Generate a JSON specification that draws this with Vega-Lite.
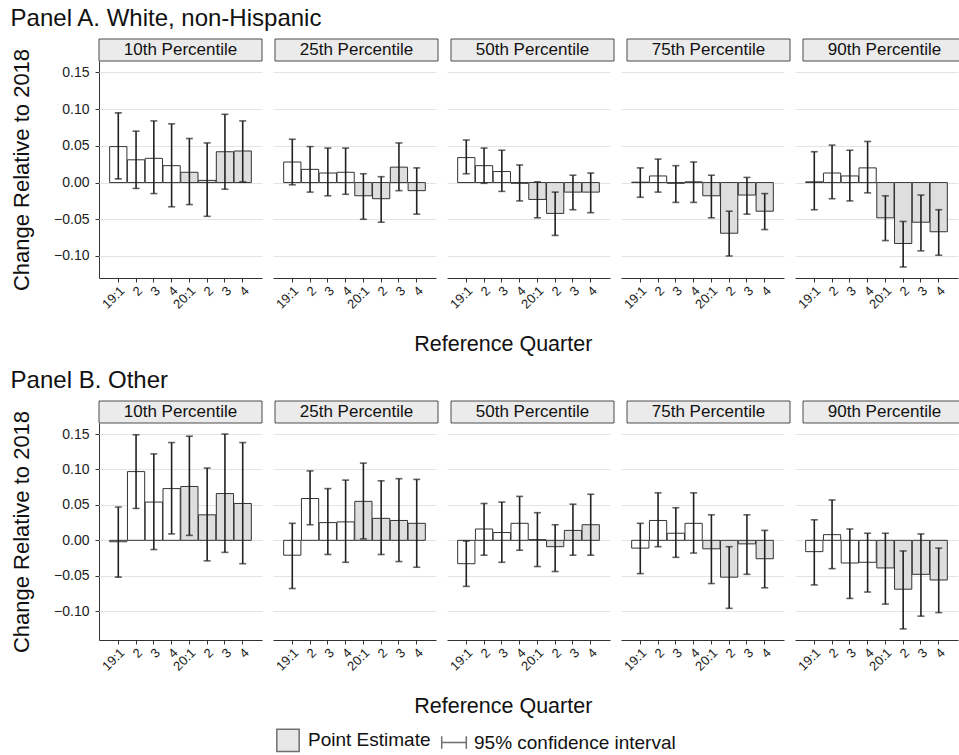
{
  "$schema": "https://vega.github.io/schema/vega-lite/v6.json",
  "background": "white",
  "padding": {"left": 10, "top": 6, "right": 0, "bottom": 0},
  "config": {
    "font": "Liberation Sans",
    "view": {"stroke": null},
    "title": {"fontSize": 24, "fontWeight": "normal", "anchor": "start", "color": "#111", "offset": 8},
    "axis": {
      "labelFontSize": 14, "labelColor": "#222", "domainColor": "#333", "tickColor": "#333",
      "tickSize": 4, "titleFontSize": 22, "titleFontWeight": "normal", "titleColor": "#111",
      "gridColor": "#e4e4e4", "gridWidth": 1
    },
    "legend": {"labelFontSize": 19, "labelColor": "#111", "labelLimit": 400}
  },
  "datasets": {
    "strips": [
      {"pct": "10th Percentile"}, {"pct": "25th Percentile"}, {"pct": "50th Percentile"},
      {"pct": "75th Percentile"}, {"pct": "90th Percentile"}
    ],
    "est": [
      {"panel": "A", "pct": "10th Percentile", "q": "19:1", "est": 0.049, "lo": 0.005, "hi": 0.095},
      {"panel": "A", "pct": "10th Percentile", "q": "19:2", "est": 0.031, "lo": -0.008, "hi": 0.070},
      {"panel": "A", "pct": "10th Percentile", "q": "19:3", "est": 0.033, "lo": -0.015, "hi": 0.084},
      {"panel": "A", "pct": "10th Percentile", "q": "19:4", "est": 0.023, "lo": -0.033, "hi": 0.080},
      {"panel": "A", "pct": "10th Percentile", "q": "20:1", "est": 0.014, "lo": -0.030, "hi": 0.060},
      {"panel": "A", "pct": "10th Percentile", "q": "20:2", "est": 0.003, "lo": -0.046, "hi": 0.054},
      {"panel": "A", "pct": "10th Percentile", "q": "20:3", "est": 0.042, "lo": -0.009, "hi": 0.093},
      {"panel": "A", "pct": "10th Percentile", "q": "20:4", "est": 0.043, "lo": 0.001, "hi": 0.084},

      {"panel": "A", "pct": "25th Percentile", "q": "19:1", "est": 0.028, "lo": -0.003, "hi": 0.059},
      {"panel": "A", "pct": "25th Percentile", "q": "19:2", "est": 0.018, "lo": -0.013, "hi": 0.049},
      {"panel": "A", "pct": "25th Percentile", "q": "19:3", "est": 0.013, "lo": -0.018, "hi": 0.047},
      {"panel": "A", "pct": "25th Percentile", "q": "19:4", "est": 0.014, "lo": -0.016, "hi": 0.047},
      {"panel": "A", "pct": "25th Percentile", "q": "20:1", "est": -0.018, "lo": -0.050, "hi": 0.012},
      {"panel": "A", "pct": "25th Percentile", "q": "20:2", "est": -0.022, "lo": -0.054, "hi": 0.008},
      {"panel": "A", "pct": "25th Percentile", "q": "20:3", "est": 0.021, "lo": -0.011, "hi": 0.054},
      {"panel": "A", "pct": "25th Percentile", "q": "20:4", "est": -0.011, "lo": -0.043, "hi": 0.020},

      {"panel": "A", "pct": "50th Percentile", "q": "19:1", "est": 0.034, "lo": 0.012, "hi": 0.058},
      {"panel": "A", "pct": "50th Percentile", "q": "19:2", "est": 0.023, "lo": -0.001, "hi": 0.047},
      {"panel": "A", "pct": "50th Percentile", "q": "19:3", "est": 0.015, "lo": -0.012, "hi": 0.044},
      {"panel": "A", "pct": "50th Percentile", "q": "19:4", "est": -0.001, "lo": -0.025, "hi": 0.024},
      {"panel": "A", "pct": "50th Percentile", "q": "20:1", "est": -0.023, "lo": -0.048, "hi": 0.001},
      {"panel": "A", "pct": "50th Percentile", "q": "20:2", "est": -0.042, "lo": -0.072, "hi": -0.013},
      {"panel": "A", "pct": "50th Percentile", "q": "20:3", "est": -0.013, "lo": -0.037, "hi": 0.010},
      {"panel": "A", "pct": "50th Percentile", "q": "20:4", "est": -0.013, "lo": -0.041, "hi": 0.013},

      {"panel": "A", "pct": "75th Percentile", "q": "19:1", "est": 0.0005, "lo": -0.020, "hi": 0.020},
      {"panel": "A", "pct": "75th Percentile", "q": "19:2", "est": 0.009, "lo": -0.013, "hi": 0.032},
      {"panel": "A", "pct": "75th Percentile", "q": "19:3", "est": -0.001, "lo": -0.027, "hi": 0.023},
      {"panel": "A", "pct": "75th Percentile", "q": "19:4", "est": 0.001, "lo": -0.027, "hi": 0.028},
      {"panel": "A", "pct": "75th Percentile", "q": "20:1", "est": -0.018, "lo": -0.048, "hi": 0.010},
      {"panel": "A", "pct": "75th Percentile", "q": "20:2", "est": -0.069, "lo": -0.100, "hi": -0.039},
      {"panel": "A", "pct": "75th Percentile", "q": "20:3", "est": -0.017, "lo": -0.043, "hi": 0.007},
      {"panel": "A", "pct": "75th Percentile", "q": "20:4", "est": -0.039, "lo": -0.064, "hi": -0.015},

      {"panel": "A", "pct": "90th Percentile", "q": "19:1", "est": 0.001, "lo": -0.037, "hi": 0.042},
      {"panel": "A", "pct": "90th Percentile", "q": "19:2", "est": 0.013, "lo": -0.022, "hi": 0.051},
      {"panel": "A", "pct": "90th Percentile", "q": "19:3", "est": 0.009, "lo": -0.025, "hi": 0.044},
      {"panel": "A", "pct": "90th Percentile", "q": "19:4", "est": 0.020, "lo": -0.014, "hi": 0.056},
      {"panel": "A", "pct": "90th Percentile", "q": "20:1", "est": -0.048, "lo": -0.079, "hi": -0.018},
      {"panel": "A", "pct": "90th Percentile", "q": "20:2", "est": -0.083, "lo": -0.115, "hi": -0.053},
      {"panel": "A", "pct": "90th Percentile", "q": "20:3", "est": -0.054, "lo": -0.093, "hi": -0.017},
      {"panel": "A", "pct": "90th Percentile", "q": "20:4", "est": -0.067, "lo": -0.099, "hi": -0.037},

      {"panel": "B", "pct": "10th Percentile", "q": "19:1", "est": -0.002, "lo": -0.052, "hi": 0.047},
      {"panel": "B", "pct": "10th Percentile", "q": "19:2", "est": 0.097, "lo": 0.045, "hi": 0.149},
      {"panel": "B", "pct": "10th Percentile", "q": "19:3", "est": 0.054, "lo": -0.013, "hi": 0.122},
      {"panel": "B", "pct": "10th Percentile", "q": "19:4", "est": 0.073, "lo": 0.009, "hi": 0.138},
      {"panel": "B", "pct": "10th Percentile", "q": "20:1", "est": 0.076, "lo": 0.007, "hi": 0.147},
      {"panel": "B", "pct": "10th Percentile", "q": "20:2", "est": 0.036, "lo": -0.029, "hi": 0.102},
      {"panel": "B", "pct": "10th Percentile", "q": "20:3", "est": 0.066, "lo": -0.017, "hi": 0.150},
      {"panel": "B", "pct": "10th Percentile", "q": "20:4", "est": 0.052, "lo": -0.033, "hi": 0.138},

      {"panel": "B", "pct": "25th Percentile", "q": "19:1", "est": -0.021, "lo": -0.068, "hi": 0.024},
      {"panel": "B", "pct": "25th Percentile", "q": "19:2", "est": 0.059, "lo": 0.022, "hi": 0.098},
      {"panel": "B", "pct": "25th Percentile", "q": "19:3", "est": 0.025, "lo": -0.020, "hi": 0.073},
      {"panel": "B", "pct": "25th Percentile", "q": "19:4", "est": 0.026, "lo": -0.031, "hi": 0.085},
      {"panel": "B", "pct": "25th Percentile", "q": "20:1", "est": 0.055, "lo": 0.002, "hi": 0.109},
      {"panel": "B", "pct": "25th Percentile", "q": "20:2", "est": 0.031, "lo": -0.020, "hi": 0.084},
      {"panel": "B", "pct": "25th Percentile", "q": "20:3", "est": 0.028, "lo": -0.030, "hi": 0.087},
      {"panel": "B", "pct": "25th Percentile", "q": "20:4", "est": 0.024, "lo": -0.038, "hi": 0.086},

      {"panel": "B", "pct": "50th Percentile", "q": "19:1", "est": -0.033, "lo": -0.065, "hi": -0.001},
      {"panel": "B", "pct": "50th Percentile", "q": "19:2", "est": 0.016, "lo": -0.021, "hi": 0.052},
      {"panel": "B", "pct": "50th Percentile", "q": "19:3", "est": 0.011, "lo": -0.031, "hi": 0.054},
      {"panel": "B", "pct": "50th Percentile", "q": "19:4", "est": 0.024, "lo": -0.014, "hi": 0.062},
      {"panel": "B", "pct": "50th Percentile", "q": "20:1", "est": 0.001, "lo": -0.037, "hi": 0.039},
      {"panel": "B", "pct": "50th Percentile", "q": "20:2", "est": -0.009, "lo": -0.044, "hi": 0.022},
      {"panel": "B", "pct": "50th Percentile", "q": "20:3", "est": 0.014, "lo": -0.021, "hi": 0.051},
      {"panel": "B", "pct": "50th Percentile", "q": "20:4", "est": 0.022, "lo": -0.021, "hi": 0.065},

      {"panel": "B", "pct": "75th Percentile", "q": "19:1", "est": -0.011, "lo": -0.047, "hi": 0.024},
      {"panel": "B", "pct": "75th Percentile", "q": "19:2", "est": 0.028, "lo": -0.009, "hi": 0.067},
      {"panel": "B", "pct": "75th Percentile", "q": "19:3", "est": 0.010, "lo": -0.024, "hi": 0.046},
      {"panel": "B", "pct": "75th Percentile", "q": "19:4", "est": 0.024, "lo": -0.018, "hi": 0.067},
      {"panel": "B", "pct": "75th Percentile", "q": "20:1", "est": -0.012, "lo": -0.061, "hi": 0.036},
      {"panel": "B", "pct": "75th Percentile", "q": "20:2", "est": -0.052, "lo": -0.096, "hi": -0.009},
      {"panel": "B", "pct": "75th Percentile", "q": "20:3", "est": -0.005, "lo": -0.048, "hi": 0.036},
      {"panel": "B", "pct": "75th Percentile", "q": "20:4", "est": -0.026, "lo": -0.067, "hi": 0.014},

      {"panel": "B", "pct": "90th Percentile", "q": "19:1", "est": -0.016, "lo": -0.063, "hi": 0.029},
      {"panel": "B", "pct": "90th Percentile", "q": "19:2", "est": 0.008, "lo": -0.040, "hi": 0.057},
      {"panel": "B", "pct": "90th Percentile", "q": "19:3", "est": -0.032, "lo": -0.082, "hi": 0.016},
      {"panel": "B", "pct": "90th Percentile", "q": "19:4", "est": -0.031, "lo": -0.073, "hi": 0.010},
      {"panel": "B", "pct": "90th Percentile", "q": "20:1", "est": -0.039, "lo": -0.090, "hi": 0.010},
      {"panel": "B", "pct": "90th Percentile", "q": "20:2", "est": -0.069, "lo": -0.125, "hi": -0.015},
      {"panel": "B", "pct": "90th Percentile", "q": "20:3", "est": -0.048, "lo": -0.107, "hi": 0.009},
      {"panel": "B", "pct": "90th Percentile", "q": "20:4", "est": -0.056, "lo": -0.102, "hi": -0.011}
    ]
  },
  "spacing": 12,
  "vconcat": [
    {
      "title": {"text": "Panel A. White, non-Hispanic"},
      "bounds": "flush",
      "spacing": 22,
      "vconcat": [
        {
          "data": {"name": "strips"},
          "facet": {"column": {"field": "pct", "type": "nominal", "header": null}},
          "spacing": 11,
          "spec": {
            "width": 163,
            "height": 22,
            "layer": [
              {"mark": {"type": "rect", "fill": "#ebebeb", "stroke": "#4d4d4d", "strokeWidth": 1}, "encoding": {}},
              {"mark": {"type": "text", "fontSize": 17, "color": "#111"}, "encoding": {"text": {"field": "pct"}}}
            ]
          }
        },
        {
          "data": {"name": "est"},
          "transform": [{"filter": "datum.panel == 'A'"}],
          "title": {"text": "Reference Quarter", "orient": "bottom", "anchor": "middle", "frame": "bounds", "dx": 19, "fontSize": 21.5, "offset": 23},
          "facet": {"column": {"field": "pct", "type": "nominal", "header": null}},
          "spacing": 11,
          "spec": {
            "width": 163,
            "height": 217,
            "encoding": {
              "x": {
                "field": "q", "type": "nominal",
                "scale": {"paddingInner": 0.03, "paddingOuter": 0.6},
                "axis": {
                  "title": null, "labelAngle": -45, "labelFontSize": 13, "grid": false,
                  "labelExpr": "slice(datum.value, 3) == '1' ? datum.value : slice(datum.value, 3)"
                }
              }
            },
            "layer": [
              {
                "mark": {"type": "bar", "stroke": "#333", "strokeWidth": 1},
                "encoding": {
                  "y": {
                    "field": "est", "type": "quantitative", "title": "Change Relative to 2018",
                    "scale": {"domain": [-0.13, 0.1656], "nice": false},
                    "axis": {"values": [-0.1, -0.05, 0, 0.05, 0.1, 0.15], "format": ".2f", "labelPadding": 6, "titlePadding": 20}
                  },
                  "fill": {"condition": {"test": "slice(datum.q, 0, 2) == '19'", "value": "white"}, "value": "#dedede"}
                }
              },
              {
                "mark": {"type": "rule", "color": "#222", "strokeWidth": 1.6},
                "encoding": {
                  "y": {"field": "lo", "type": "quantitative", "title": "Change Relative to 2018"},
                  "y2": {"field": "hi"}
                }
              },
              {
                "mark": {"type": "tick", "color": "#222", "size": 7, "thickness": 1.6},
                "encoding": {"y": {"field": "lo", "type": "quantitative", "title": "Change Relative to 2018"}}
              },
              {
                "mark": {"type": "tick", "color": "#222", "size": 7, "thickness": 1.6},
                "encoding": {"y": {"field": "hi", "type": "quantitative", "title": "Change Relative to 2018"}}
              }
            ]
          }
        }
      ]
    },
    {
      "title": {"text": "Panel B. Other"},
      "bounds": "flush",
      "spacing": 22,
      "vconcat": [
        {
          "data": {"name": "strips"},
          "facet": {"column": {"field": "pct", "type": "nominal", "header": null}},
          "spacing": 11,
          "spec": {
            "width": 163,
            "height": 22,
            "layer": [
              {"mark": {"type": "rect", "fill": "#ebebeb", "stroke": "#4d4d4d", "strokeWidth": 1}, "encoding": {}},
              {"mark": {"type": "text", "fontSize": 17, "color": "#111"}, "encoding": {"text": {"field": "pct"}}}
            ]
          }
        },
        {
          "data": {"name": "est"},
          "transform": [{"filter": "datum.panel == 'B'"}],
          "title": {"text": "Reference Quarter", "orient": "bottom", "anchor": "middle", "frame": "bounds", "dx": 19, "fontSize": 21.5, "offset": 23},
          "facet": {"column": {"field": "pct", "type": "nominal", "header": null}},
          "spacing": 11,
          "spec": {
            "width": 163,
            "height": 217,
            "encoding": {
              "x": {
                "field": "q", "type": "nominal",
                "scale": {"paddingInner": 0.03, "paddingOuter": 0.6},
                "axis": {
                  "title": null, "labelAngle": -45, "labelFontSize": 13, "grid": false,
                  "labelExpr": "slice(datum.value, 3) == '1' ? datum.value : slice(datum.value, 3)"
                }
              }
            },
            "layer": [
              {
                "mark": {"type": "bar", "stroke": "#333", "strokeWidth": 1},
                "encoding": {
                  "y": {
                    "field": "est", "type": "quantitative", "title": "Change Relative to 2018",
                    "scale": {"domain": [-0.1407, 0.1656], "nice": false},
                    "axis": {"values": [-0.1, -0.05, 0, 0.05, 0.1, 0.15], "format": ".2f", "labelPadding": 6, "titlePadding": 20}
                  },
                  "fill": {"condition": {"test": "slice(datum.q, 0, 2) == '19'", "value": "white"}, "value": "#dedede"}
                }
              },
              {
                "mark": {"type": "rule", "color": "#222", "strokeWidth": 1.6},
                "encoding": {
                  "y": {"field": "lo", "type": "quantitative", "title": "Change Relative to 2018"},
                  "y2": {"field": "hi"}
                }
              },
              {
                "mark": {"type": "tick", "color": "#222", "size": 7, "thickness": 1.6},
                "encoding": {"y": {"field": "lo", "type": "quantitative", "title": "Change Relative to 2018"}}
              },
              {
                "mark": {"type": "tick", "color": "#222", "size": 7, "thickness": 1.6},
                "encoding": {"y": {"field": "hi", "type": "quantitative", "title": "Change Relative to 2018"}}
              },
              {
                "transform": [{"filter": "false"}],
                "mark": {"type": "point", "filled": true, "fill": "#dedede", "stroke": "#333", "strokeWidth": 1.2},
                "encoding": {
                  "shape": {
                    "datum": "Point Estimate",
                    "scale": {
                      "domain": ["Point Estimate", "95% confidence interval"],
                      "range": ["square", "M-1.1,-0.55L-1.1,0.55M-1.1,0L1.1,0M1.1,-0.55L1.1,0.55"]
                    },
                    "legend": {
                      "title": null, "orient": "none", "legendX": 177, "legendY": 689, "direction": "horizontal",
                      "symbolSize": 500, "labelOffset": 8, "columnPadding": 7
                    }
                  }
                }
              },
              {
                "transform": [{"filter": "false"}],
                "mark": {"type": "point", "filled": true, "fill": "#dedede", "stroke": "#333", "strokeWidth": 1.2},
                "encoding": {"shape": {"datum": "95% confidence interval"}}
              }
            ]
          }
        }
      ]
    }
  ]
}
